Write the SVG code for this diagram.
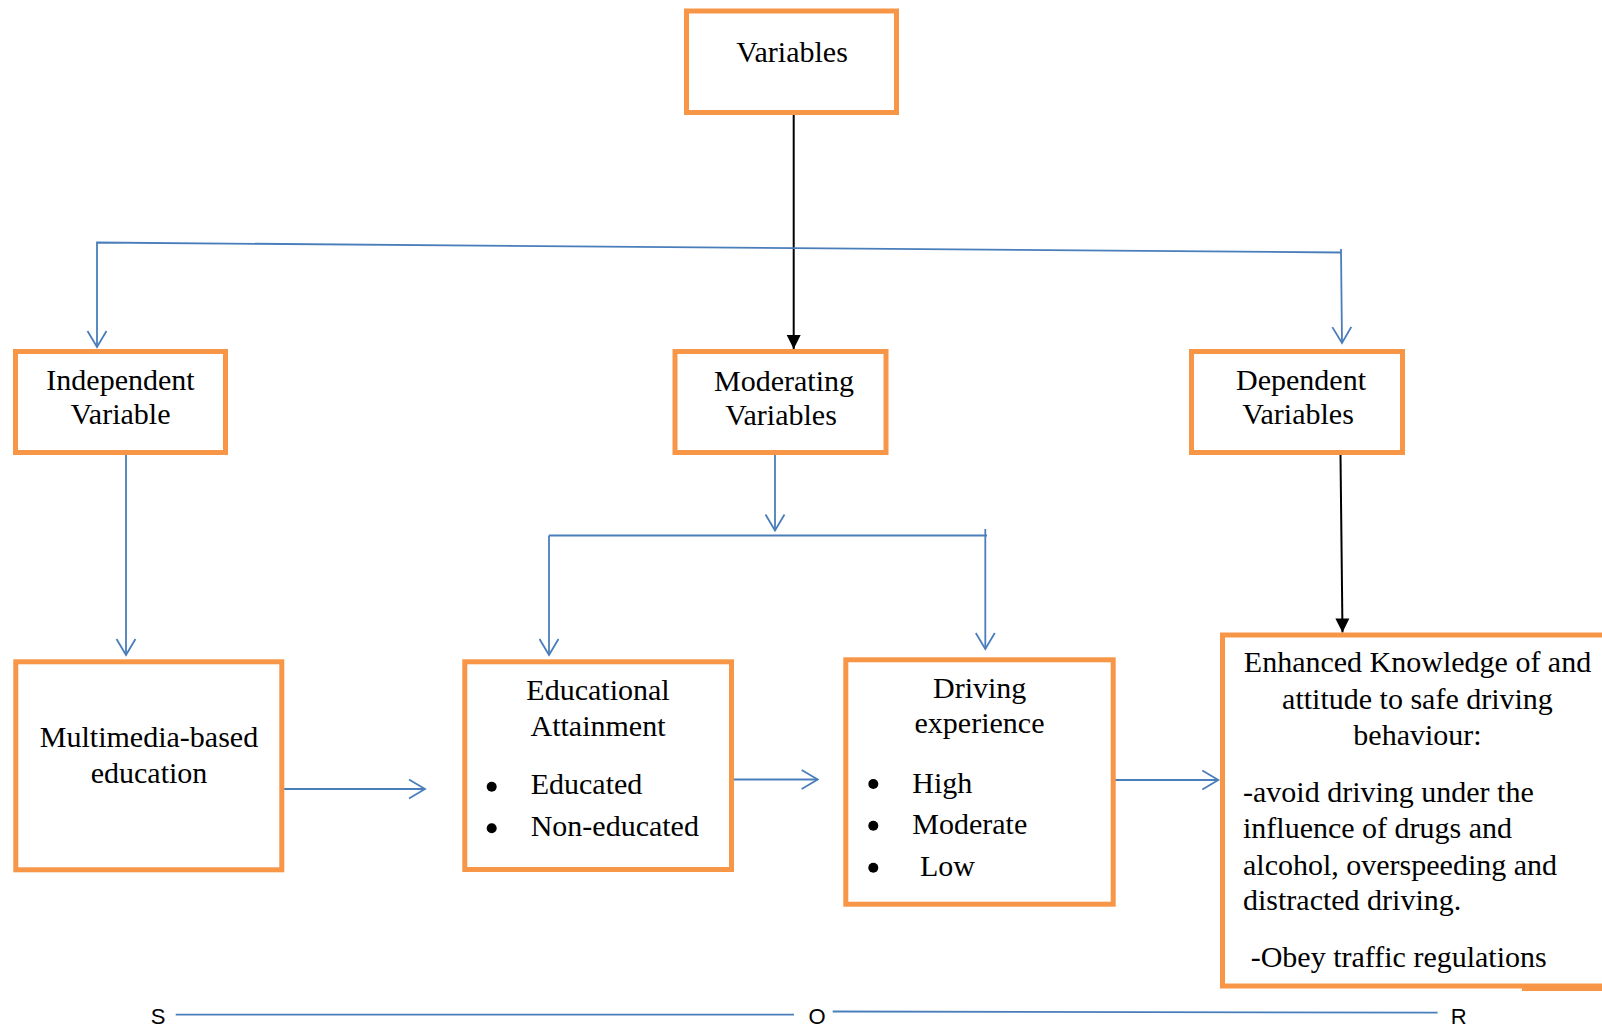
<svg xmlns="http://www.w3.org/2000/svg" width="1602" height="1026" viewBox="0 0 1602 1026">
<style>
.box{fill:#fff;stroke:#F79646;stroke-width:5}
.t{font-family:"Liberation Serif","Times New Roman",serif;font-size:30px;fill:#000}
.c{text-anchor:middle}
.blue{fill:none;stroke:#4A7EBB;stroke-width:1.8}
.black{fill:none;stroke:#000;stroke-width:2}
.sor{font-family:"Liberation Sans",Arial,sans-serif;font-size:22px;fill:#000;text-anchor:middle}
</style>
<defs>
<marker id="open" markerUnits="userSpaceOnUse" orient="auto" refX="0" refY="0" markerWidth="40" markerHeight="40" viewBox="-20 -20 40 40" overflow="visible">
<path d="M-16,-9.5 L0,0 L-16,9.5" fill="none" stroke="#4A7EBB" stroke-width="1.8"/>
</marker>
<marker id="solid" markerUnits="userSpaceOnUse" orient="auto" refX="0" refY="0" markerWidth="40" markerHeight="40" viewBox="-20 -20 40 40" overflow="visible">
<path d="M-14,-7 L0,0 L-14,7 Z" fill="#000"/>
</marker>
</defs>
<rect width="1602" height="1026" fill="#fff"/>
<g id="connectors">
<path class="black" d="M793.7,113 L793.7,349" marker-end="url(#solid)"/>
<path class="blue" d="M1341,252.5 L97,242.5 L97,347" marker-end="url(#open)"/>
<path class="blue" d="M1341,249 L1342,343" marker-end="url(#open)"/>
<path class="blue" d="M126,455 L126,655" marker-end="url(#open)"/>
<path class="blue" d="M284,789 L425,789" marker-end="url(#open)"/>
<path class="blue" d="M775,455 L775,530.5" marker-end="url(#open)"/>
<path class="blue" d="M549,535.5 L987,535.5"/>
<path class="blue" d="M549,535.5 L549,655" marker-end="url(#open)"/>
<path class="blue" d="M985.3,529 L985.3,649" marker-end="url(#open)"/>
<path class="blue" d="M734,779.5 L817.7,779.5" marker-end="url(#open)"/>
<path class="blue" d="M1115,780 L1218.3,780" marker-end="url(#open)"/>
<path class="black" d="M1340.5,455 L1342.5,632.5" marker-end="url(#solid)"/>
<path class="blue" d="M175.7,1014.6 L794,1014.6"/>
<path class="blue" d="M832.7,1011.5 L1437.6,1012.7"/>
</g>
<g id="node-variables">
<rect class="box" x="686.5" y="11" width="210" height="101.5"/>
<text class="t c" x="792" y="62">Variables</text>
</g>
<g id="node-independent">
<rect class="box" x="15.5" y="351.5" width="210" height="101"/>
<text class="t c" x="120.5" y="390">Independent</text>
<text class="t c" x="120.5" y="424">Variable</text>
</g>
<g id="node-moderating">
<rect class="box" x="675" y="351.5" width="211" height="101"/>
<text class="t c" x="784" y="391">Moderating</text>
<text class="t c" x="781" y="425">Variables</text>
</g>
<g id="node-dependent">
<rect class="box" x="1191.5" y="351.5" width="211" height="101"/>
<text class="t c" x="1301" y="390">Dependent</text>
<text class="t c" x="1298" y="424">Variables</text>
</g>
<g id="node-multimedia">
<rect class="box" x="15.8" y="661.8" width="266" height="208"/>
<text class="t c" x="149" y="746.7">Multimedia-based</text>
<text class="t c" x="149" y="783.3">education</text>
</g>
<g id="node-educational">
<rect class="box" x="464.8" y="661.8" width="266.7" height="207.7"/>
<text class="t c" x="598" y="700">Educational</text>
<text class="t c" x="598" y="735.7">Attainment</text>
<circle cx="491.7" cy="786.7" r="5"/>
<circle cx="491.7" cy="828.3" r="5"/>
<text class="t" x="530.7" y="794.3">Educated</text>
<text class="t" x="530.7" y="835.7">Non-educated</text>
</g>
<g id="node-driving">
<rect class="box" x="845.8" y="659.8" width="267.4" height="244.4"/>
<text class="t c" x="979.7" y="698.3">Driving</text>
<text class="t c" x="979.5" y="732.5">experience</text>
<circle cx="873.3" cy="784" r="5"/>
<circle cx="873.3" cy="825.7" r="5"/>
<circle cx="873.3" cy="867.7" r="5"/>
<text class="t" x="912.3" y="792.7">High</text>
<text class="t" x="912.3" y="834.3">Moderate</text>
<text class="t" x="920" y="876">Low</text>
</g>
<g id="node-enhanced">
<rect class="box" x="1222.5" y="635" width="400" height="351" stroke-width="4.5"/>
<rect x="1522" y="985" width="80" height="6" fill="#F79646"/>
<text class="t c" x="1417.5" y="671.7">Enhanced Knowledge of and</text>
<text class="t c" x="1417.5" y="709.3">attitude to safe driving</text>
<text class="t c" x="1417.5" y="745">behaviour:</text>
<text class="t" x="1243" y="801.7">-avoid driving under the</text>
<text class="t" x="1243" y="838.3">influence of drugs and</text>
<text class="t" x="1243" y="875">alcohol, overspeeding and</text>
<text class="t" x="1243" y="910">distracted driving.</text>
<text class="t" x="1250.7" y="966.7">-Obey traffic regulations</text>
</g>
<g id="sor-labels">
<text class="sor" x="158" y="1024">S</text>
<text class="sor" x="817" y="1024">O</text>
<text class="sor" x="1458.7" y="1024">R</text>
</g>
</svg>
